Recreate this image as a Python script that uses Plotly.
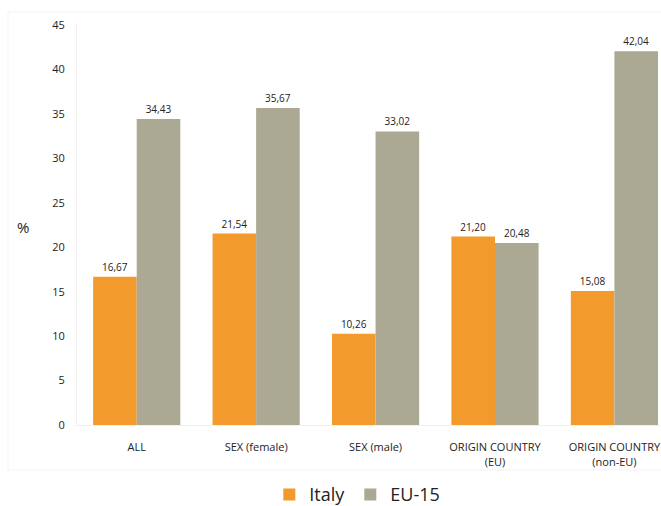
import plotly.graph_objects as go

categories = ["ALL", "SEX (female)", "SEX (male)", "ORIGIN COUNTRY<br>(EU)", "ORIGIN COUNTRY<br>(non-EU)"]
italy = [16.67, 21.54, 10.26, 21.20, 15.08]
eu15 = [34.43, 35.67, 33.02, 20.48, 42.04]
y_ticks = [0, 5, 10, 15, 20, 25, 30, 35, 40, 45]

def fmt(v):
    return f"{v:.2f}".replace(".", ",")

font_family = "Open Sans, Liberation Sans, sans-serif"

fig = go.Figure()
fig.add_trace(go.Bar(
    name="Italy", x=categories, y=italy,
    marker=dict(color="#F39A2C", line=dict(width=0)),
    text=[fmt(v) for v in italy], textposition="outside",
    textfont=dict(size=10, color="#222222"), cliponaxis=False,
))
fig.add_trace(go.Bar(
    name="EU-15", x=categories, y=eu15,
    marker=dict(color="#ABA893", line=dict(width=0)),
    text=[fmt(v) for v in eu15], textposition="outside",
    textfont=dict(size=10, color="#222222"), cliponaxis=False,
))

fig.update_layout(
    width=661, height=506,
    margin=dict(l=77, r=0, t=25, b=81, autoexpand=False),
    paper_bgcolor="white", plot_bgcolor="white",
    font=dict(family=font_family, color="#222222"),
    barmode="group", bargap=0.27, bargroupgap=0,
    showlegend=True,
    legend=dict(orientation="h", x=0.48, xanchor="center", y=-0.128, yanchor="top",
                font=dict(size=18, color="#222222"), itemwidth=30,
                tracegroupgap=0),
    xaxis=dict(range=[-0.5, 4.39], showgrid=False, showline=True, linecolor="#f0f0f0",
               ticks="", tickfont=dict(size=11), ticklabelstandoff=12,
               automargin=False, fixedrange=True),
    yaxis=dict(range=[0, 45], tickvals=y_ticks, showgrid=False, showline=True,
               linecolor="#f0f0f0", ticks="", ticklabelstandoff=9,
               tickfont=dict(size=11), zeroline=False, automargin=False),
    uniformtext=dict(minsize=10, mode="show"),
    shapes=[dict(type="rect", xref="paper", yref="paper",
                 x0=-69/584, x1=1.05, y0=-45/400, y1=1+13/400,
                 line=dict(color="#f3f3f3", width=1))],
    annotations=[dict(text="%", xref="paper", yref="paper", x=-62/584, y=0.495,
                      showarrow=False, font=dict(size=15, color="#222222"))],
)

fig.write_html("out.html")
